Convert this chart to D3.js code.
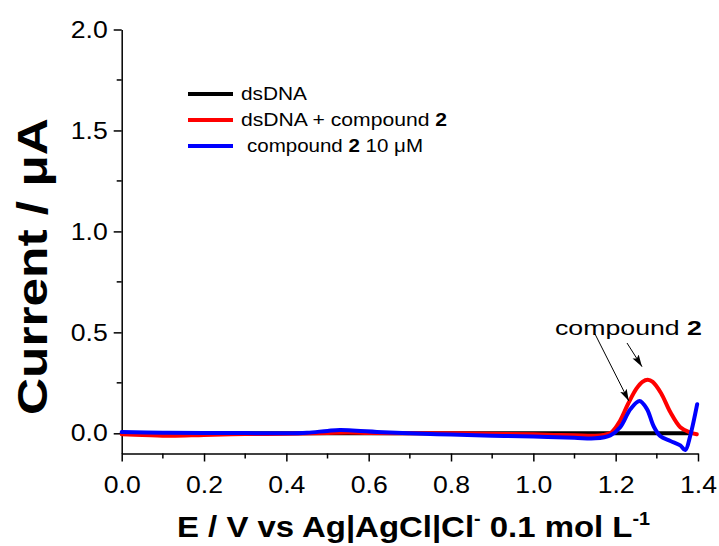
<!DOCTYPE html>
<html>
<head>
<meta charset="utf-8">
<script src="https://cdn.jsdelivr.net/npm/d3@7"></script>
<style>
  body { margin: 0; background: #fff; }
  svg { font-family: Arial, "Liberation Sans", sans-serif; }
</style>
</head>
<body>
<svg></svg>
<script>
// données
const dsdnaE = [0, 0.4, 0.8, 1.2, 1.38];
const dsdnaI = [0, 0, 0, 0, 0];

const mixE = [0, 0.05, 0.12, 0.2, 0.3, 0.4, 0.5, 0.55, 0.6, 0.7, 0.8, 0.9, 1.0, 1.05, 1.1, 1.15, 1.17, 1.19, 1.21, 1.23, 1.25, 1.265, 1.278, 1.29, 1.31, 1.333, 1.357, 1.38, 1.397];
const mixI = [-0.005, -0.008, -0.012, -0.008, -0.004, -0.002, 0.002, 0.004, 0.002, 0.0, 0.0, -0.002, -0.005, -0.008, -0.01, -0.012, -0.008, 0.005, 0.06, 0.145, 0.22, 0.255, 0.265, 0.255, 0.2, 0.104, 0.03, 0.005, -0.005];

const compE = [0, 0.1, 0.2, 0.3, 0.4, 0.45, 0.5, 0.53, 0.57, 0.62, 0.7, 0.8, 0.9, 1.0, 1.1, 1.15, 1.187, 1.211, 1.236, 1.258, 1.276, 1.292, 1.308, 1.333, 1.357, 1.369, 1.381, 1.398];
const compI = [0.006, 0.003, 0.002, 0.001, 0.0, 0.003, 0.012, 0.016, 0.013, 0.007, 0.0, -0.006, -0.012, -0.016, -0.022, -0.025, -0.01, 0.03, 0.12, 0.16, 0.12, 0.036, -0.013, -0.038, -0.06, -0.083, -0.013, 0.144];

const xTicks = [0, 0.2, 0.4, 0.6, 0.8, 1.0, 1.2, 1.4];
const xMinor = [0.1, 0.3, 0.5, 0.7, 0.9, 1.1, 1.3];
const yTicks = [0, 0.5, 1.0, 1.5, 2.0];
const yMinor = [0.25, 0.75, 1.25, 1.75];

const series = [
  { name: "dsDNA", e: dsdnaE, i: dsdnaI, color: "#000000" },
  { name: "dsDNA + compound 2", e: mixE, i: mixI, color: "#ff0000" },
  { name: "compound 2 10 μM", e: compE, i: compI, color: "#0000ff" }
];

const width = 719, height = 546;
const svg = d3.select("svg").attr("width", width).attr("height", height);

const x = d3.scaleLinear().domain([0, 1.4]).range([121.7, 698]);
const y = d3.scaleLinear().domain([-0.1, 2.0]).range([453.5, 29.5]);

// axes
const xAxis = svg.append("g")
  .attr("transform", `translate(0,${y(-0.1)})`)
  .call(d3.axisBottom(x).tickValues(xTicks).tickFormat(d3.format(".1f")).tickSize(8).tickPadding(14).tickSizeOuter(0));
xAxis.append("g").selectAll("line").data(xMinor).join("line")
  .attr("x1", d => x(d)).attr("x2", d => x(d)).attr("y1", 0).attr("y2", 5)
  .attr("stroke", "#000").attr("stroke-width", 1.5);

const yAxis = svg.append("g")
  .attr("transform", `translate(${x(0)},0)`)
  .call(d3.axisLeft(y).tickValues(yTicks).tickFormat(d3.format(".1f")).tickSize(8).tickPadding(6).tickSizeOuter(0));
yAxis.append("g").selectAll("line").data(yMinor).join("line")
  .attr("y1", d => y(d)).attr("y2", d => y(d)).attr("x1", 0).attr("x2", -5)
  .attr("stroke", "#000").attr("stroke-width", 1.5);

svg.selectAll(".domain, .tick line").attr("stroke", "#000").attr("stroke-width", 1.5);
svg.selectAll(".tick text")
  .attr("fill", "#000")
  .style("font-size", "24px")
  .attr("textLength", 37)
  .attr("lengthAdjust", "spacingAndGlyphs");

// courbes
const line = d3.line()
  .x(d => x(d[0]))
  .y(d => y(d[1]))
  .curve(d3.curveCatmullRom.alpha(0.5));

svg.append("g").selectAll("path")
  .data(series)
  .join("path")
  .attr("d", s => line(s.e.map((e, k) => [e, s.i[k]])))
  .attr("fill", "none")
  .attr("stroke", s => s.color)
  .attr("stroke-width", 4)
  .attr("stroke-linejoin", "round")
  .attr("stroke-linecap", "round");

// légende
const legend = svg.append("g");
const legRows = [
  { y: 94, x: 241, len: 66 },
  { y: 120, x: 241, len: 206 },
  { y: 146, x: 247, len: 176 }
];
series.forEach((s, k) => {
  const r = legRows[k];
  legend.append("line")
    .attr("x1", 188).attr("x2", 233).attr("y1", r.y).attr("y2", r.y)
    .attr("stroke", s.color).attr("stroke-width", 4);
  const t = legend.append("text")
    .attr("x", r.x).attr("y", r.y + 6)
    .style("font-size", "18px")
    .attr("textLength", r.len)
    .attr("lengthAdjust", "spacingAndGlyphs");
  if (k === 0) t.text("dsDNA");
  if (k === 1) {
    t.append("tspan").text("dsDNA + compound ");
    t.append("tspan").attr("font-weight", "bold").text("2");
  }
  if (k === 2) {
    t.append("tspan").text("compound ");
    t.append("tspan").attr("font-weight", "bold").text("2");
    t.append("tspan").text(" 10 μM");
  }
});

// annotation + flèches
const defs = svg.append("defs");
defs.append("marker")
  .attr("id", "head")
  .attr("viewBox", "0 0 10 10")
  .attr("refX", 10).attr("refY", 5)
  .attr("markerWidth", 12).attr("markerHeight", 12)
  .attr("markerUnits", "userSpaceOnUse")
  .attr("orient", "auto")
  .append("path").attr("d", "M0,2 L10,5 L0,8 L2,5 z").attr("fill", "#000");

const ann = svg.append("text")
  .attr("x", 555).attr("y", 335)
  .style("font-size", "21px")
  .attr("textLength", 147)
  .attr("lengthAdjust", "spacingAndGlyphs");
ann.append("tspan").text("compound ");
ann.append("tspan").attr("font-weight", "bold").text("2");

svg.append("line")
  .attr("x1", 595).attr("y1", 334).attr("x2", x(1.232)).attr("y2", y(0.16))
  .attr("stroke", "#000").attr("stroke-width", 1)
  .attr("marker-end", "url(#head)");
svg.append("line")
  .attr("x1", 627).attr("y1", 343).attr("x2", x(1.264)).attr("y2", y(0.33))
  .attr("stroke", "#000").attr("stroke-width", 1)
  .attr("marker-end", "url(#head)");

// titres des axes
const xl = svg.append("text")
  .attr("x", 177).attr("y", 537)
  .style("font-size", "30px").attr("font-weight", "bold")
  .attr("textLength", 473)
  .attr("lengthAdjust", "spacingAndGlyphs");
xl.append("tspan").text("E / V vs Ag|AgCl|Cl");
xl.append("tspan").attr("dy", -12).style("font-size", "18px").text("-");
xl.append("tspan").attr("dy", 12).text(" 0.1 mol L");
xl.append("tspan").attr("dy", -12).style("font-size", "18px").text("-1");

svg.append("text")
  .attr("transform", "translate(47,415) rotate(-90)")
  .style("font-size", "42px").attr("font-weight", "bold")
  .attr("textLength", 297)
  .attr("lengthAdjust", "spacingAndGlyphs")
  .text("Current / μA");
</script>
</body>
</html>
